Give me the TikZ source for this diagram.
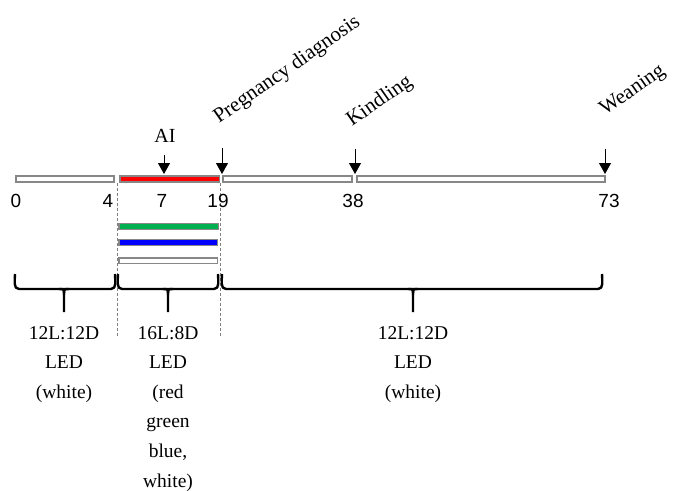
\documentclass[tikz,border=0pt]{standalone}
\usepackage{fontspec}
\setmainfont{Liberation Serif}
\newfontfamily\numfont{Liberation Sans}
\usetikzlibrary{arrows.meta}
\definecolor{bargray}{RGB}{135,135,135}
\definecolor{ledred}{RGB}{255,0,0}
\definecolor{ledgreen}{RGB}{0,176,80}
\definecolor{ledblue}{RGB}{0,0,255}
\tikzset{
  bar/.style={draw=bargray, line width=1.6pt},
  marker/.style={-{Triangle[width=12pt,length=11pt]}, line width=1pt},
  num/.style={font=\numfont\fontsize{19}{22}\selectfont, anchor=base, inner sep=0pt},
  serif/.style={font=\rmfamily\fontsize{20}{22}\selectfont, inner sep=0pt},
  evt/.style={font=\rmfamily\fontsize{21}{24}\selectfont, inner sep=0pt, rotate=35, anchor=base west},
  lbl/.style={font=\rmfamily\fontsize{19.5}{29.6}\selectfont, align=center, anchor=north, inner sep=0pt},
  brc/.style={line width=2.4pt, line join=round},
  guide/.style={draw=gray, dash pattern=on 3pt off 2pt, line width=0.8pt},
}
\begin{document}
\begin{tikzpicture}[x=1pt,y=-1pt]
\useasboundingbox (0,0) rectangle (676,490);

% dotted guides marking the 16L:8D period
\draw[guide] (117,183) -- (117,337);
\draw[guide] (220,183) -- (220,337);

% timeline segments
\draw[bar, fill=white]    (16,176) rectangle (114,182);
\draw[bar, fill=ledred]   (120,176) rectangle (219.5,182);
\draw[bar, fill=white]    (223,176) rectangle (352,182);
\draw[bar, fill=white]    (357,176) rectangle (605,182);

% parallel light treatments
\draw[bar, fill=ledgreen] (119,223.5) rectangle (218.5,229.5);
\draw[bar, fill=ledblue]  (119,239.5) rectangle (217.5,245.5);
\draw[bar, fill=white]    (119,258) rectangle (217.5,263.5);

% event markers
\coordinate (aiT) at (164,155);   \coordinate (aiB) at (164,174);
\coordinate (pdT) at (222,148);   \coordinate (pdB) at (222,174);
\coordinate (kiT) at (355,149);   \coordinate (kiB) at (355,174);
\coordinate (weT) at (605,149);   \coordinate (weB) at (605,174);
\draw[marker] (aiT) -- (aiB);
\draw[marker] (pdT) -- (pdB);
\draw[marker] (kiT) -- (kiB);
\draw[marker] (weT) -- (weB);

\node[serif, anchor=base] (ai) at (165,142) {AI};
\node[evt] (pd) at (219,124) {Pregnancy diagnosis};
\node[evt] (ki) at (352,127) {Kindling};
\node[evt] (we) at (605,116) {Weaning};

% day numbers
\node[num] (d0)  at (16,207)  {0};
\node[num] (d4)  at (108,207) {4};
\node[num] (d7)  at (162,207) {7};
\node[num] (d19) at (218,207) {19};
\node[num] (d38) at (353,207) {38};
\node[num] (d73) at (609,207) {73};

% braces
\draw[brc] (15,274) to[out=-90,in=180] (19,289) -- (111,289) to[out=0,in=-90] (115,274);
\draw[brc] (59,289) .. controls (64,289) .. (64,295) -- (64,312);
\draw[brc] (69,289) .. controls (64,289) .. (64,295);

\draw[brc] (118,274) to[out=-90,in=180] (122,289) -- (214,289) to[out=0,in=-90] (218,274);
\draw[brc] (163,289) .. controls (168,289) .. (168,295) -- (168,312);
\draw[brc] (173,289) .. controls (168,289) .. (168,295);

\draw[brc] (222,274) to[out=-90,in=180] (226,289) -- (598,289) to[out=0,in=-90] (602,274);
\draw[brc] (408,289) .. controls (413,289) .. (413,295) -- (413,312);
\draw[brc] (418,289) .. controls (413,289) .. (413,295);

% period descriptions
\node[lbl] (p1) at (64,326)  {12L:12D\\LED\\(white)};
\node[lbl] (p2) at (168,326) {16L:8D\\LED\\(red\\green\\blue,\\white)};
\node[lbl] (p3) at (413,326) {12L:12D\\LED\\(white)};
\end{tikzpicture}
\end{document}
